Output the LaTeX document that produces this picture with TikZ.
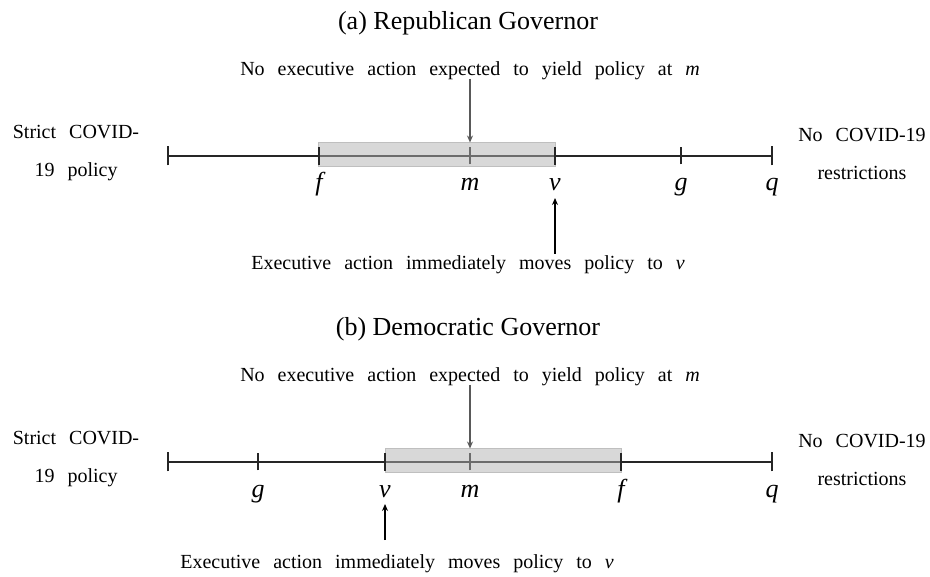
\documentclass[tikz,border=0pt]{standalone}
\usepackage{fontspec}
\setmainfont{Liberation Serif}
\newfontfamily\widefont{Liberation Serif}[WordSpace=2.6]
\usetikzlibrary{arrows.meta}
\begin{document}
\begin{tikzpicture}[x=1pt,y=-1pt,
  axisline/.style={line width=1.2pt, black!85},
  tickmark/.style={line width=1.2pt, black!85},
  band/.style={fill=black!30, fill opacity=0.5, draw=black!25, draw opacity=1, line width=1pt},
  paneltitle/.style={font=\fontsize{26}{30}\selectfont, inner sep=0pt, anchor=base},
  body/.style={font=\widefont\fontsize{20}{24}\selectfont, inner sep=0pt, anchor=base},
  lab/.style={font=\fontsize{26}{30}\selectfont\itshape, inner sep=0pt, anchor=base},
  side/.style={font=\widefont\fontsize{20}{38}\selectfont, align=center, inner sep=0pt},
  downarrow/.style={-{Stealth[length=7pt,width=6pt]}, line width=1.2pt, black!65},
  uparrow/.style={-{Stealth[length=7pt,width=6pt]}, line width=1.2pt, black},
]
\useasboundingbox (0,0) rectangle (930,577);

% ---------------- Panel (a)
\node[paneltitle] (atitle) at (468,30) {(a) Republican Governor};
\node[body] (atop) at (470,76) {No executive action expected to yield policy at \textit{m}};
\node[side] (aleft) at (76,153) {Strict COVID-\\19 policy};
\node[side] (aright) at (862,154) {No COVID-19\\restrictions};

\coordinate (aL) at (168,156);
\coordinate (aR) at (772,156);
\coordinate (af) at (319,156);
\coordinate (am) at (470,156);
\coordinate (av) at (555,156);
\coordinate (ag) at (681,156);

\draw[axisline] (aL) -- (aR);
\draw[tickmark] ([yshift=-9.5pt]aL) -- ([yshift=9.5pt]aL);
\draw[tickmark] ([yshift=-9.5pt]aR) -- ([yshift=9.5pt]aR);
\draw[tickmark] ([yshift=-8.5pt]am) -- ([yshift=8.5pt]am);
\draw[tickmark] ([yshift=-8.5pt]ag) -- ([yshift=8.5pt]ag);
\node[band, minimum width=237pt, minimum height=24pt, inner sep=0pt] (abox) at (436.5,155) {};
\draw[tickmark] ([yshift=-9pt]af) -- ([yshift=9pt]af);
\draw[tickmark] ([yshift=-9pt]av) -- ([yshift=9pt]av);

\node[lab] (alf) at (319,191) {f};
\node[lab] (alm) at (470,191) {m};
\node[lab] (alv) at (555,191) {v};
\node[lab] (alg) at (681,191) {g};
\node[lab] (alq) at (772,191) {q};

\node[body] (abot) at (468,270) {Executive action immediately moves policy to \textit{v}};

\coordinate (adownstart) at (470,79);
\draw[downarrow] (adownstart) -- (abox.north -| am);
\coordinate (aupstart) at (555,254);
\coordinate (aupend) at (555,198);
\draw[uparrow] (aupstart) -- (aupend);

% ---------------- Panel (b)
\node[paneltitle] (btitle) at (468,336) {(b) Democratic Governor};
\node[body] (btop) at (470,382) {No executive action expected to yield policy at \textit{m}};
\node[side] (bleft) at (76,459) {Strict COVID-\\19 policy};
\node[side] (bright) at (862,460) {No COVID-19\\restrictions};

\coordinate (bL) at (168,462);
\coordinate (bR) at (772,462);
\coordinate (bg) at (258,462);
\coordinate (bv) at (385,462);
\coordinate (bm) at (470,462);
\coordinate (bf) at (621,462);

\draw[axisline] (bL) -- (bR);
\draw[tickmark] ([yshift=-9.5pt]bL) -- ([yshift=9.5pt]bL);
\draw[tickmark] ([yshift=-9.5pt]bR) -- ([yshift=9.5pt]bR);
\draw[tickmark] ([yshift=-8.5pt]bg) -- ([yshift=8.5pt]bg);
\draw[tickmark] ([yshift=-8.5pt]bm) -- ([yshift=8.5pt]bm);
\node[band, minimum width=236pt, minimum height=24pt, inner sep=0pt] (bbox) at (503,461) {};
\draw[tickmark] ([yshift=-9pt]bv) -- ([yshift=9pt]bv);
\draw[tickmark] ([yshift=-9pt]bf) -- ([yshift=9pt]bf);

\node[lab] (blg) at (258,497) {g};
\node[lab] (blv) at (385,497) {v};
\node[lab] (blm) at (470,497) {m};
\node[lab] (blf) at (621,497) {f};
\node[lab] (blq) at (772,497) {q};

\node[body] (bbot) at (397,568) {Executive action immediately moves policy to \textit{v}};

\coordinate (bdownstart) at (470,385);
\draw[downarrow] (bdownstart) -- (bbox.north -| bm);
\coordinate (bupstart) at (385,540);
\coordinate (bupend) at (385,504);
\draw[uparrow] (bupstart) -- (bupend);
\end{tikzpicture}
\end{document}
